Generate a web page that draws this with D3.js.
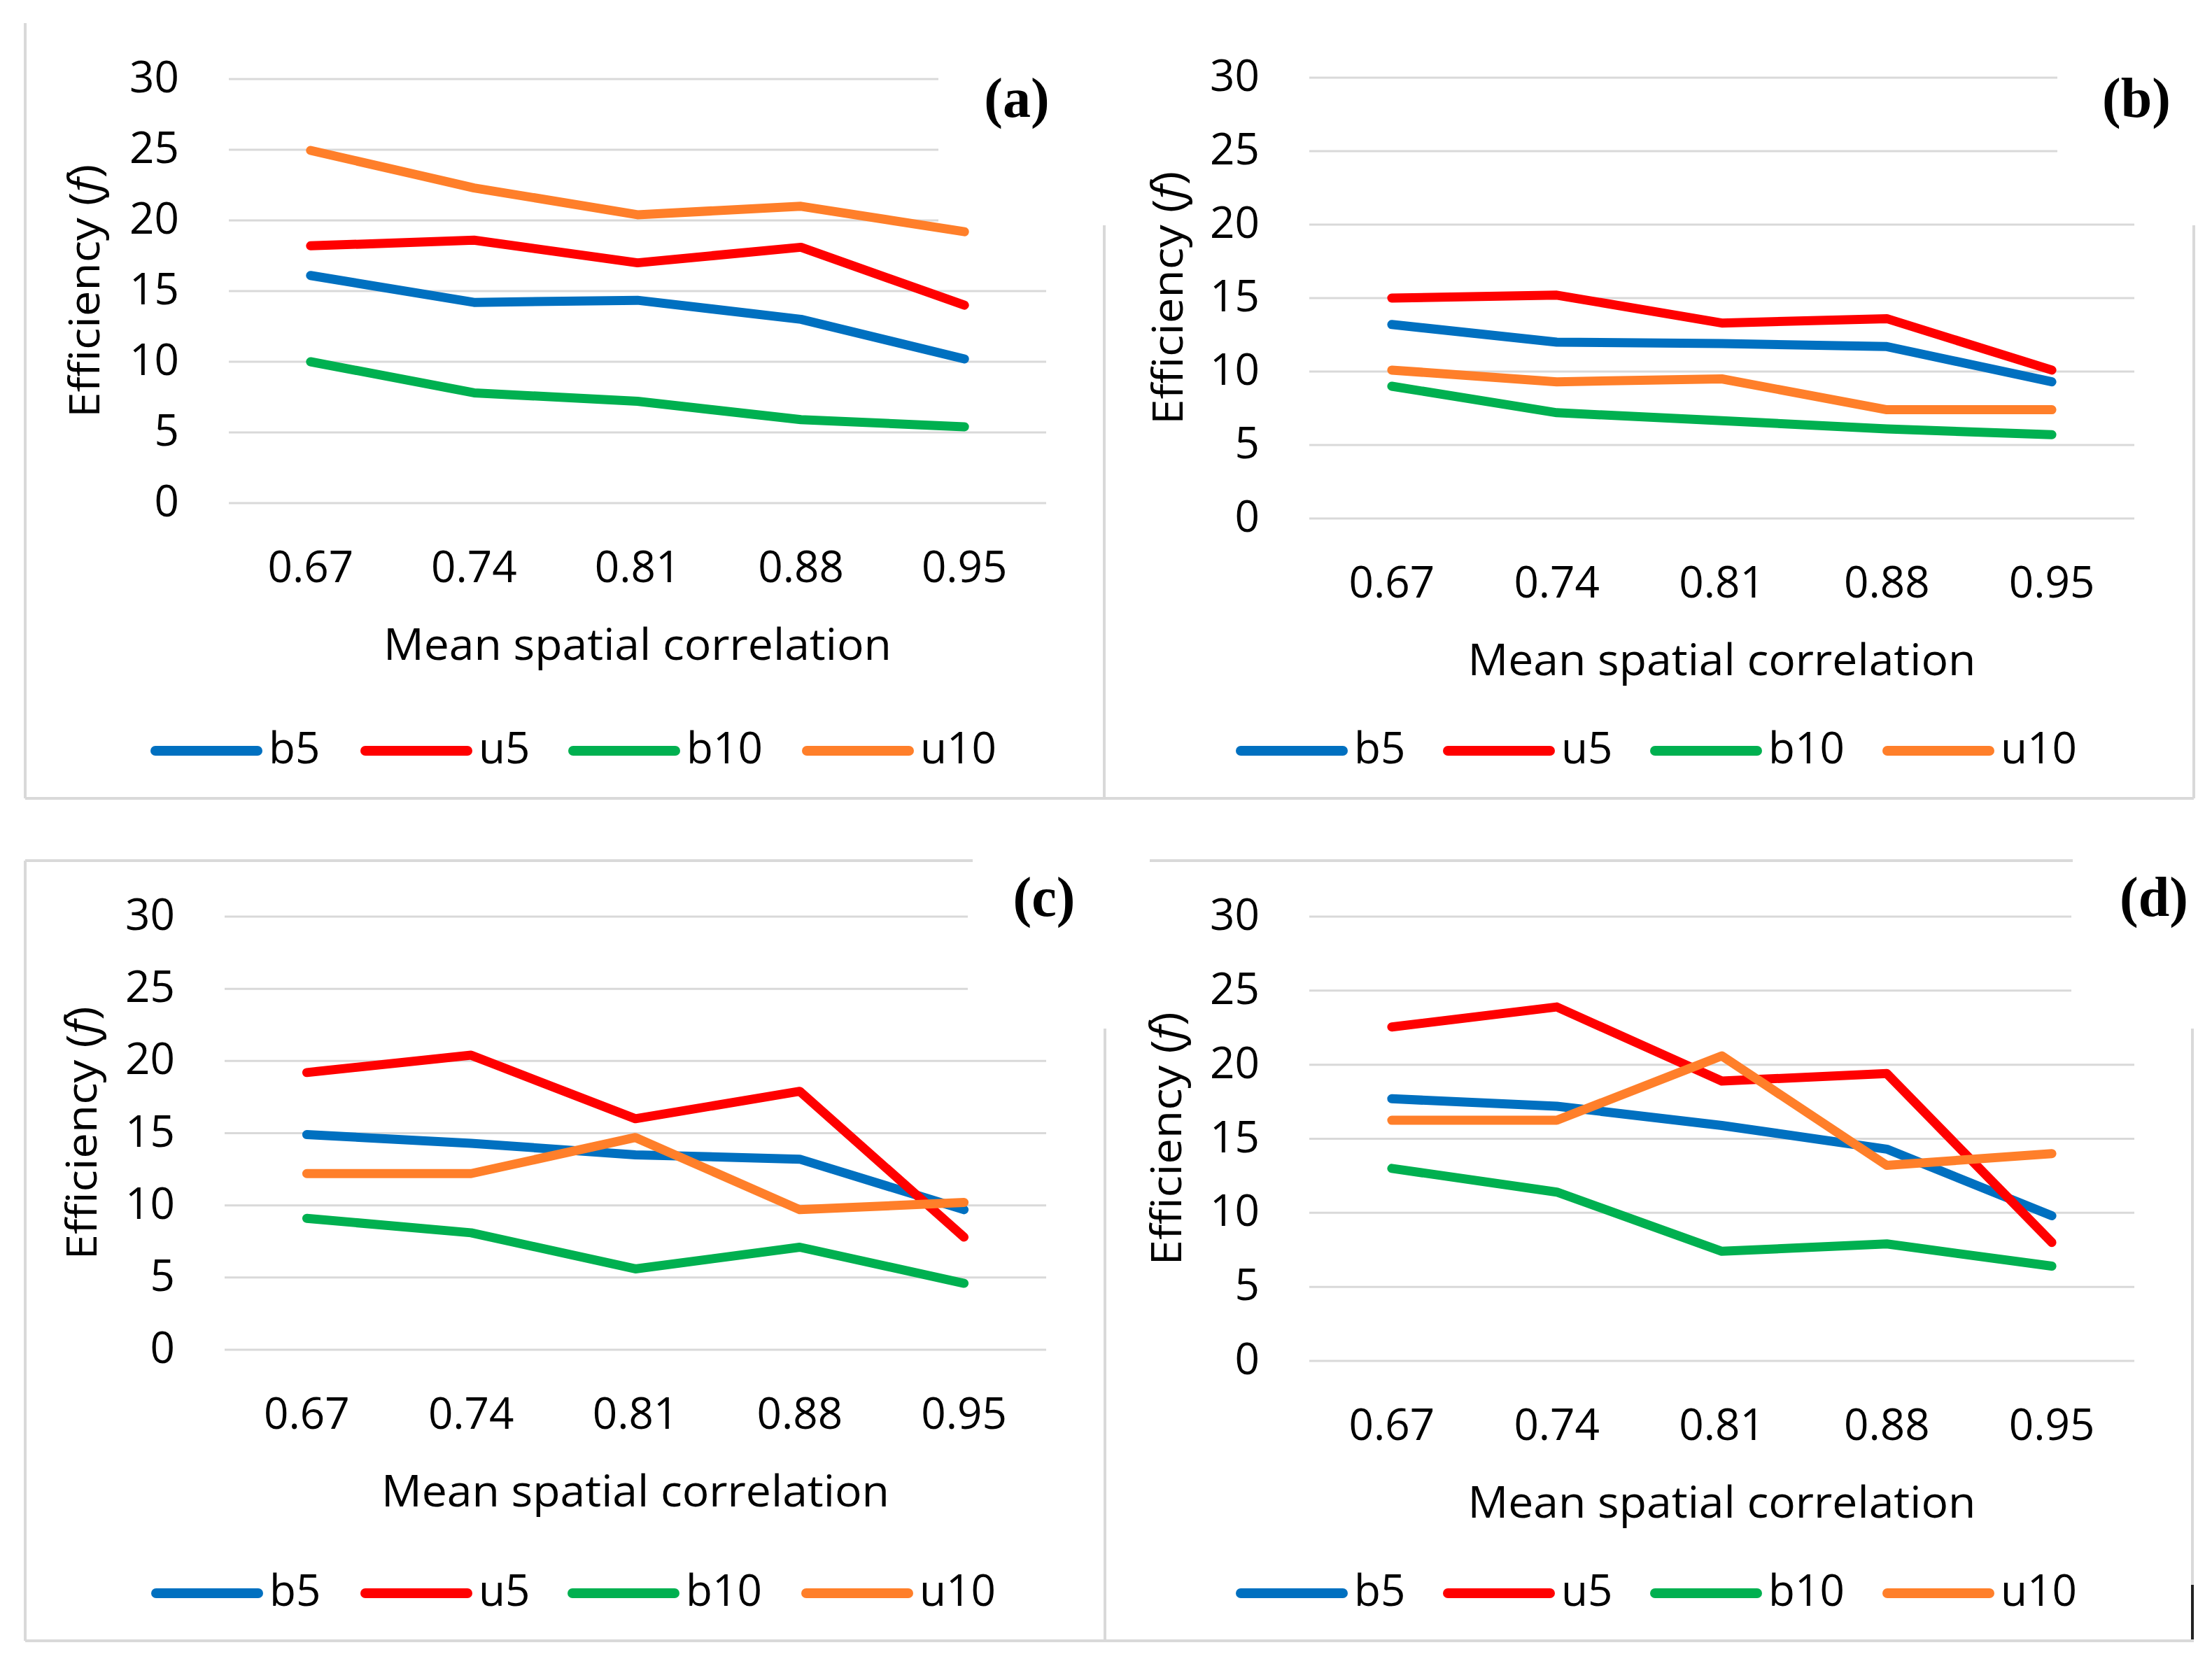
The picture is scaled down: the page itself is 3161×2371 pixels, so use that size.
<!DOCTYPE html>
<html>
<head>
<meta charset="utf-8">
<script src="https://cdn.jsdelivr.net/npm/d3@7"></script>
<style>
  html, body { margin: 0; padding: 0; background: #fff; }
  svg { display: block; }
</style>
</head>
<body>
<div id="chart"></div>
<script>
var categories = ['0.67', '0.74', '0.81', '0.88', '0.95'];
var seriesNames = ['b5', 'u5', 'b10', 'u10'];
var seriesColors = ['#0070C0', '#FF0000', '#00B050', '#FF7F2A'];
var yTicks = [0, 5, 10, 15, 20, 25, 30];

// panel (a)
var a_b5 = [16.1, 14.2, 14.35, 13.0, 10.2];
var a_u5 = [18.2, 18.6, 17.0, 18.1, 14.0];
var a_b10 = [10.0, 7.8, 7.2, 5.9, 5.4];
var a_u10 = [24.95, 22.3, 20.4, 21.0, 19.2];
// panel (b)
var b_b5 = [13.2, 12.0, 11.9, 11.7, 9.3];
var b_u5 = [15.0, 15.2, 13.3, 13.6, 10.1];
var b_b10 = [9.0, 7.2, 6.65, 6.1, 5.7];
var b_u10 = [10.1, 9.3, 9.5, 7.4, 7.4];
// panel (c)
var c_b5 = [14.9, 14.3, 13.5, 13.2, 9.7];
var c_u5 = [19.2, 20.4, 16.0, 17.9, 7.8];
var c_b10 = [9.1, 8.1, 5.6, 7.1, 4.6];
var c_u10 = [12.2, 12.2, 14.7, 9.7, 10.2];
// panel (d)
var d_b5 = [17.7, 17.2, 15.9, 14.3, 9.8];
var d_u5 = [22.55, 23.9, 18.9, 19.4, 8.0];
var d_b10 = [13.0, 11.4, 7.4, 7.9, 6.4];
var d_u10 = [16.25, 16.25, 20.6, 13.2, 14.0];

var W = 3161, H = 2371;
var SANS = '"Open Sans", "DejaVu Sans", sans-serif';
var GRID = '#d9d9d9';

var panels = [
  { tag: '(a)', data: [a_b5, a_u5, a_b10, a_u10], x0: 327, x1: 1495, y0: 719, y30: 113,
    shortEnd: 1341, shortFrom: 20, titleX: 142, tagX: 1453, tagY: 167,
    legendY: 1073, legendX: [218, 518, 815, 1149] },
  { tag: '(b)', data: [b_b5, b_u5, b_b10, b_u10], x0: 1871, x1: 3050, y0: 741, y30: 111,
    shortEnd: 2940, shortFrom: 25, titleX: 1690, tagX: 3053, tagY: 167,
    legendY: 1073, legendX: [1769, 2065, 2361, 2693] },
  { tag: '(c)', data: [c_b5, c_u5, c_b10, c_u10], x0: 321, x1: 1495, y0: 1929, y30: 1310,
    shortEnd: 1383, shortFrom: 25, titleX: 138, tagX: 1492, tagY: 1309,
    legendY: 2277, legendX: [219, 518, 814, 1148] },
  { tag: '(d)', data: [d_b5, d_u5, d_b10, d_u10], x0: 1871, x1: 3050, y0: 1945, y30: 1310,
    shortEnd: 2960, shortFrom: 25, titleX: 1688, tagX: 3078, tagY: 1309,
    legendY: 2277, legendX: [1769, 2065, 2361, 2693] }
];

var svg = d3.select('#chart').append('svg')
  .attr('width', W)
  .attr('height', H)
  .attr('viewBox', '0 0 ' + W + ' ' + H);

// frame pieces left over from the pasted chart images
var frames = [
  [36, 33, 36, 1141], [36, 1141, 3135, 1141],
  [1578, 322, 1578, 1141], [3135, 322, 3135, 1141],
  [36, 1230, 1390, 1230], [36, 1230, 36, 2345], [36, 2345, 3135, 2345],
  [1579, 1470, 1579, 2345], [1643, 1230, 2962, 1230], [3133, 1470, 3133, 2265]
];
svg.append('g').selectAll('line').data(frames).enter().append('line')
  .attr('x1', function(d) { return d[0]; })
  .attr('y1', function(d) { return d[1]; })
  .attr('x2', function(d) { return d[2]; })
  .attr('y2', function(d) { return d[3]; })
  .attr('stroke', GRID)
  .attr('stroke-width', 4);
svg.append('line')
  .attr('x1', 3133).attr('y1', 2265).attr('x2', 3133).attr('y2', 2343)
  .attr('stroke', '#222').attr('stroke-width', 4);

panels.forEach(function(p) {
  var g = svg.append('g');

  var x = d3.scaleBand().domain(categories).range([p.x0, p.x1]);
  var y = d3.scaleLinear().domain([0, 30]).range([p.y0, p.y30]);
  var cx = function(c) { return x(c) + x.bandwidth() / 2; };

  // gridlines
  g.append('g').selectAll('line').data(yTicks).enter().append('line')
    .attr('x1', p.x0)
    .attr('x2', function(d) { return d >= p.shortFrom ? p.shortEnd : p.x1; })
    .attr('y1', function(d) { return y(d); })
    .attr('y2', function(d) { return y(d); })
    .attr('stroke', GRID)
    .attr('stroke-width', 3);

  // y axis labels
  var yAxis = g.append('g')
    .attr('transform', 'translate(' + p.x0 + ',0)')
    .call(d3.axisLeft(y).tickValues(yTicks).tickSize(0).tickPadding(71));
  yAxis.select('.domain').remove();
  yAxis.selectAll('text')
    .attr('dy', '0.3em')
    .style('font-family', SANS)
    .style('font-size', '62px')
    .style('fill', '#000');

  // x axis labels
  var xAxis = g.append('g')
    .attr('transform', 'translate(0,' + p.y0 + ')')
    .call(d3.axisBottom(x).tickSize(0).tickPadding(69));
  xAxis.select('.domain').remove();
  xAxis.selectAll('text')
    .style('font-family', SANS)
    .style('font-size', '62px')
    .style('fill', '#000');

  // axis titles
  g.append('text')
    .attr('x', (p.x0 + p.x1) / 2)
    .attr('y', p.y0 + 224)
    .attr('text-anchor', 'middle')
    .style('font-family', SANS)
    .style('font-size', '62px')
    .attr('textLength', 726)
    .attr('lengthAdjust', 'spacingAndGlyphs')
    .text('Mean spatial correlation');

  var yt = g.append('text')
    .attr('transform', 'translate(' + p.titleX + ',' + (p.y0 + p.y30) / 2 + ') rotate(-90)')
    .attr('text-anchor', 'middle')
    .attr('textLength', 362)
    .attr('lengthAdjust', 'spacingAndGlyphs')
    .style('font-family', SANS)
    .style('font-size', '60px');
  yt.append('tspan').text('Efficiency (');
  yt.append('tspan').style('font-style', 'italic').text('f');
  yt.append('tspan').text(')');

  // panel tag
  g.append('text')
    .attr('x', p.tagX)
    .attr('y', p.tagY)
    .attr('text-anchor', 'middle')
    .style('font-family', '"Liberation Serif", "Times New Roman", serif')
    .style('font-weight', 'bold')
    .style('font-size', '80px')
    .text(p.tag);

  // series lines
  var line = d3.line()
    .x(function(d, i) { return cx(categories[i]); })
    .y(function(d) { return y(d); });

  g.append('g').selectAll('path').data(p.data).enter().append('path')
    .attr('d', function(d) { return line(d); })
    .attr('fill', 'none')
    .attr('stroke', function(d, i) { return seriesColors[i]; })
    .attr('stroke-width', 13)
    .attr('stroke-linejoin', 'round')
    .attr('stroke-linecap', 'round');

  // legend
  var lg = g.append('g').selectAll('g').data(seriesNames).enter().append('g')
    .attr('transform', function(d, i) { return 'translate(' + p.legendX[i] + ',' + p.legendY + ')'; });
  lg.append('line')
    .attr('x1', 4).attr('x2', 150)
    .attr('y1', 0).attr('y2', 0)
    .attr('stroke', function(d, i) { return seriesColors[i]; })
    .attr('stroke-width', 14)
    .attr('stroke-linecap', 'round');
  lg.append('text')
    .attr('x', 166)
    .attr('y', 18)
    .style('font-family', SANS)
    .style('font-size', '62px')
    .text(function(d) { return d; });
});
</script>
</body>
</html>
